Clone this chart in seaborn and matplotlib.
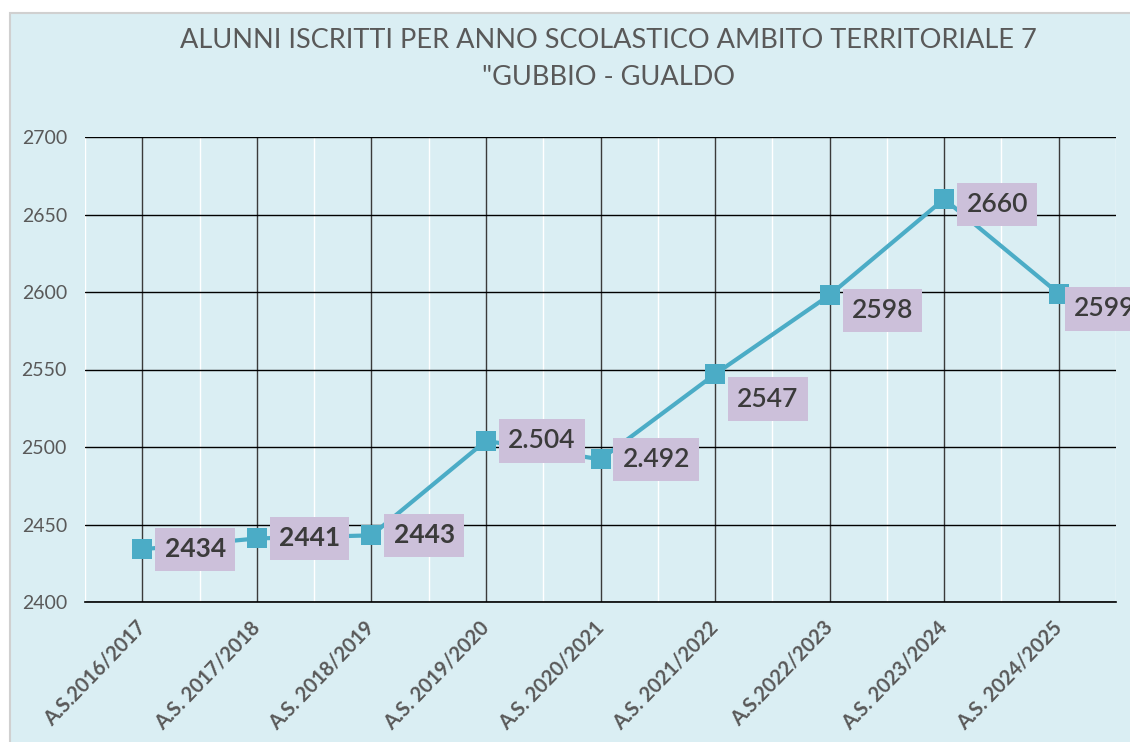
import numpy as np
import pandas as pd
import seaborn as sns
import matplotlib.pyplot as plt
import matplotlib.ticker as mticker
from matplotlib.patches import Rectangle

# Dati
anni = ["A.S.2016/2017", "A.S. 2017/2018", "A.S. 2018/2019", "A.S. 2019/2020",
        "A.S. 2020/2021", "A.S. 2021/2022", "A.S.2022/2023", "A.S. 2023/2024",
        "A.S. 2024/2025"]
alunni = [2434, 2441, 2443, 2504, 2492, 2547, 2598, 2660, 2599]
etichette = ["2434", "2441", "2443", "2.504", "2.492", "2547", "2598", "2660", "2599"]

TITOLO = "ALUNNI ISCRITTI PER ANNO SCOLASTICO AMBITO TERRITORIALE 7\n\"GUBBIO - GUALDO"

df = pd.DataFrame({"anno": anni, "alunni": alunni})

sns.set_theme(style="white")
plt.rcParams["font.family"] = ["Lato", "DejaVu Sans"]

SFONDO = "#DAEEF3"
LINEA = "#4BACC6"
BOX = "#CCC0DA"

fig = plt.figure(figsize=(11.3, 7.42), dpi=100, facecolor="white")
# pannello azzurro con bordo grigio
fig.patches.append(Rectangle((10 / 1130, -0.01), 1.0, 1 - 13 / 742 + 0.01,
                             transform=fig.transFigure, facecolor=SFONDO,
                             edgecolor="#D0D0D0", linewidth=1.5, zorder=-10))

ax = fig.add_axes([85 / 1130, 1 - 602 / 742, (1116 - 85) / 1130, (602 - 137) / 742])
ax.set_facecolor("none")

sns.lineplot(data=df, x="anno", y="alunni", sort=False, ax=ax, color=LINEA,
             linewidth=3, marker="s", markersize=15, markeredgewidth=0,
             markerfacecolor=LINEA, zorder=5)

ax.set_xlim(-0.5, len(anni) - 0.5)
ax.set_ylim(2400, 2700)
ax.yaxis.set_major_locator(mticker.MultipleLocator(50))
ax.xaxis.set_minor_locator(mticker.FixedLocator(np.arange(-0.5, len(anni), 1.0)))

# griglia: righe nere, verticali scure sulle categorie, bianche tra le categorie
ax.grid(axis="y", which="major", color="black", linewidth=1.0, zorder=1)
ax.grid(axis="x", which="major", color="#3A3A3A", linewidth=1.0, zorder=1)
ax.grid(axis="x", which="minor", color="white", linewidth=1.0, zorder=1)
ax.set_axisbelow(True)

for lato in ["top", "left", "right"]:
    ax.spines[lato].set_visible(False)
ax.spines["bottom"].set_color("black")
ax.spines["bottom"].set_linewidth(1.2)

ax.set_xlabel("")
ax.set_ylabel("")
ax.tick_params(axis="both", which="both", length=0)
ax.tick_params(axis="y", pad=13, labelsize=14, labelcolor="#595959")
ax.set_xticks(range(len(anni)))
ax.set_xticklabels(anni, rotation=46, ha="right", va="center", rotation_mode="anchor",
                   fontsize=14.5, fontweight="bold", color="#595959")
ax.tick_params(axis="x", pad=16)

# etichette dei valori (posizione come nell'originale)
spost_x = [16, 16, 16, 16, 16, 16, 16, 16, 11]
spost_y = [0, 0, 0, 0, 0, -18, -11, -4, -11]
for i, (v, t) in enumerate(zip(alunni, etichette)):
    ax.annotate(t, xy=(i, v), xytext=(spost_x[i], spost_y[i]), textcoords="offset points",
                ha="left", va="center", fontsize=19,
                fontweight="bold" if i < 3 else "semibold", color="#3B3B3B",
                bbox=dict(boxstyle="square,pad=0.35", facecolor=BOX, edgecolor="none"),
                zorder=6, annotation_clip=False)

fig.text(608 / 1130, 1 - 59 / 742, TITOLO, ha="center", va="center", fontsize=19.5,
         fontweight="normal", color="#595959", linespacing=1.6)

fig.savefig("out.png", dpi=100, facecolor="white")
plt.close(fig)
print("Grafico salvato in out.png")
